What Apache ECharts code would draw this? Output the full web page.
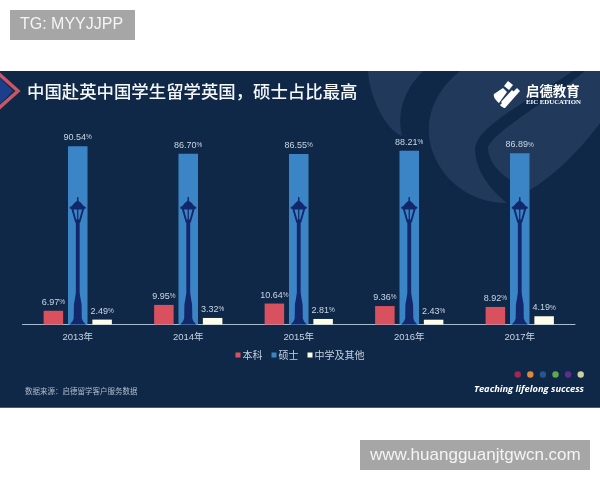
<!DOCTYPE html>
<html><head><meta charset="utf-8">
<style>html,body{margin:0;padding:0;background:#fff}#c{width:600px;height:480px}</style>
<script src="https://cdn.jsdelivr.net/npm/echarts@6/dist/echarts.min.js"></script>
</head><body><div id="c"></div>
<script>
const categories = ['2013年','2014年','2015年','2016年','2017年'];
const bachelor = [6.97,9.95,10.64,9.36,8.92];
const master = [90.54,86.70,86.55,88.21,86.89];
const secondary = [2.49,3.32,2.81,2.43,4.19];
const lampHeights = [64.7,64.7,64.7,64.7,64.7];
const dotColors = ['#a8244f','#d98a3a','#27558c','#5dab48','#5c2f8f','#cfcfa6'];
const FONT = '"Liberation Sans","Noto Sans CJK SC",sans-serif';
const CJK = '"Noto Sans CJK SC",sans-serif';
const LAMP = 'M7.4 0 L8.6 0 L8.8 4 C10.5 5 12.5 7.5 13.5 9 L15.5 10 L15.5 11.5 L14 12 L10.5 25 L9.8 26 L9.8 96 L10.6 102 L11.6 108 L11.8 122 L13 125 L15.5 128 L0.5 128 L3 125 L4.2 122 L4.4 108 L5.4 102 L6.2 96 L6.2 26 L5.5 25 L2 12 L0.5 11.5 L0.5 10 L2.5 9 C3.5 7.5 5.5 5 7.2 4 Z M4 12.5 L6.6 22.5 L7.4 22.5 L7.4 12.5 Z M12 12.5 L8.6 12.5 L8.6 22.5 L9.4 22.5 Z';
function flat(d){
  const t=d.replace(/([MLCZ])/g,' $1 ').trim().split(/\s+/);let i=0,p=[],c=[0,0];
  while(i<t.length){const k=t[i++];
    if(k==='M'||k==='L'){c=[+t[i],+t[i+1]];i+=2;p.push(c);}
    else if(k==='C'){const a=t.slice(i,i+6).map(Number);i+=6;
      for(let s=1;s<=16;s++){const u=s/16,v=1-u;
        p.push([v*v*v*c[0]+3*v*v*u*a[0]+3*v*u*u*a[2]+u*u*u*a[4],v*v*v*c[1]+3*v*v*u*a[1]+3*v*u*u*a[3]+u*u*u*a[5]]);}
      c=[a[4],a[5]];}
  }
  return p;
}
const poly=(d,fill,z)=>({type:'polygon',z:z||1,shape:{points:flat(d)},style:{fill}});
const chart = echarts.init(document.getElementById('c'),null,{renderer:'canvas'});
const dots = dotColors.map((c,i)=>({type:'circle',shape:{cx:517.7+i*12.6,cy:374.5,r:3.2},style:{fill:c},z:1}));
const txt=(x,y,text,font,fill,align)=>({type:'text',x,y,z:3,style:{text,font,fill,align:align||'left',verticalAlign:'middle'}});
const labelCfg={show:true,position:'top',distance:4,color:'#c9d6e4',fontSize:9,fontFamily:FONT,
  formatter:p=>'{v|'+p.value.toFixed(2)+'}{p|%}',
  rich:{v:{fontSize:9,color:'#c9d6e4',fontFamily:FONT},p:{fontSize:6.5,color:'#c9d6e4',fontFamily:FONT}}};
chart.setOption({
  backgroundColor:'#ffffff',
  animation:false,
  grid:{left:22.5,right:25,top:127.5,bottom:155.5},
  xAxis:{type:'category',data:categories,axisTick:{show:false},
    axisLine:{lineStyle:{color:'#a9bccf',width:1}},
    axisLabel:{color:'#c5d2e0',fontSize:9.5,fontFamily:FONT,margin:8}},
  yAxis:{type:'value',min:0,max:100,show:false},
  legend:{data:['本科','硕士','中学及其他'],top:345,left:'center',icon:'rect',itemWidth:5,itemHeight:5,itemGap:9,
    textStyle:{color:'#c5d2e0',fontSize:10,fontFamily:CJK,padding:[0,0,0,-3]}},
  series:[
    {name:'本科',type:'bar',data:bachelor,barWidth:19.5,barGap:'25%',itemStyle:{color:'#d9505f'},label:labelCfg},
    {name:'硕士',type:'bar',data:master,barWidth:19.5,itemStyle:{color:'#3b85c6'},label:labelCfg},
    {name:'中学及其他',type:'bar',data:secondary,barWidth:19.5,itemStyle:{color:'#fdfde8'},label:labelCfg},
    {name:'lamp',type:'custom',z:5,silent:true,encode:{x:0,y:1},
      data:lampHeights.map((h,i)=>[i,h]),
      renderItem:(params,api)=>{
        const b=api.coord([api.value(0),0]), t=api.coord([api.value(0),api.value(1)]);
        return {type:'path',shape:{pathData:LAMP,layout:'cover',x:b[0]-8,y:t[1],width:16,height:b[1]-t[1]},style:{fill:'#12286a'}};
      }}
  ],
  graphic:[
    {type:'rect',shape:{x:0,y:71,width:600,height:336.7},style:{fill:'#102848'},z:0},
    poly('M368 71 C369 95 385 130 402 136 C397 115 402 92 423 71 Z','#213a5b'),
    poly('M460 71 C430 95 424 125 432 150 C442 180 470 203 507 203 C490 190 475 170 475 148 C478 125 530 100 573 71 Z','#213a5b'),
    poly('M585 71 L600 71 L600 123 C580 150 555 175 530 190 C505 180 488 165 488 147 C495 130 550 100 585 71 Z','#213a5b'),
    {type:'polygon',z:2,shape:{points:[[0,78],[13,91],[0,104]]},style:{fill:'#1c3f8c'}},
    {type:'polyline',z:2,shape:{points:[[-2,73],[18,91],[-2,109]]},style:{stroke:'#c95565',lineWidth:3.5,fill:'none'}},
    txt(27,91,'中国赴英中国学生留学英国，硕士占比最高','500 17.4px '+CJK,'#f4f6f8'),
    poly('M508 81 L513 85 L509 90 L504 86 Z','#ffffff',3),
    poly('M503 88 L507 92 L499 103 C495 100 493 96 494 94 Z','#ffffff',3),
    poly('M517 88 L520 91 L505 108 C503 108 501 106 500 105 Z','#ffffff',3),
    poly('M512 90 L514 92 L503 104 L501 102 Z','#ffffff',3),
    txt(526,91,'启德教育','700 13.4px "Noto Sans CJK SC",sans-serif','#ffffff'),
    txt(526,102,'EIC EDUCATION','700 6.8px "Liberation Serif",serif','#ffffff'),
    txt(25,391,'数据来源：启德留学客户服务数据','7.5px '+CJK,'#aebccb'),
    txt(474,389,'Teaching lifelong success','italic 700 9.3px "Open Sans",sans-serif','#ffffff'),
    ...dots,
    {type:'rect',shape:{x:10,y:10,width:125,height:30},style:{fill:'#a6a6a6'},z:2},
    txt(20,25,'TG: MYYJJPP','16px '+FONT,'#f4f4f4'),
    {type:'rect',shape:{x:360,y:440,width:230,height:30},style:{fill:'#a6a6a6'},z:2},
    txt(370,455,'www.huangguanjtgwcn.com','17px '+FONT,'#f4f4f4')
  ]
});
</script></body></html>
